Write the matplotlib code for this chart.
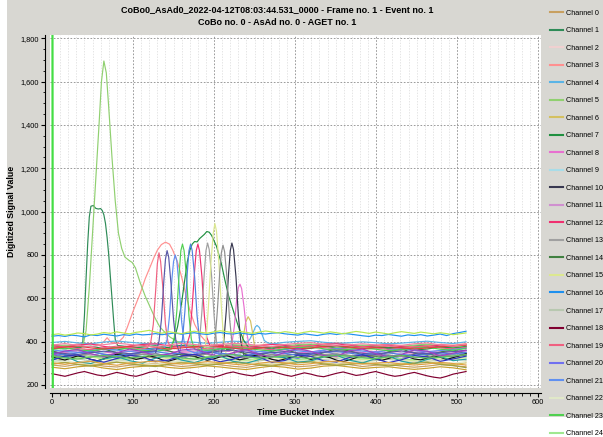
import numpy as np
import matplotlib
matplotlib.use("Agg")
import matplotlib.pyplot as plt
from matplotlib.lines import Line2D
from matplotlib.patches import Rectangle
from matplotlib.ticker import MultipleLocator, FuncFormatter

plt.rcParams['font.family'] = ['Liberation Sans', 'DejaVu Sans']

title1 = "CoBo0_AsAd0_2022-04-12T08:03:44.531_0000 - Frame no. 1 - Event no. 1"
title2 = "CoBo no. 0 - AsAd no. 0 - AGET no. 1"

base_00 = [292, 286, 295, 298, 287, 283, 291, 296, 301, 292, 285, 290, 299, 293, 286, 281, 290, 297, 292, 284, 288, 296, 301, 294, 285, 291, 294, 287, 282, 287, 294, 289, 284]
base_01 = [374, 381, 371, 368, 377, 382, 376, 370, 366, 375, 383, 377, 369, 376, 382, 379, 372, 367, 377, 382, 386, 378, 371, 373, 381, 376, 368, 373, 380, 384, 375, 370, 378]
base_02 = [362, 350, 371, 358, 344, 366, 375, 352, 361, 378, 356, 345, 368, 372, 350, 363, 376, 348, 357, 370, 381, 355, 349, 366, 374, 351, 343, 362, 371, 356, 348, 367, 373]
base_03 = [386, 380, 389, 392, 383, 378, 386, 393, 396, 387, 381, 384, 391, 388, 380, 377, 384, 391, 386, 378, 383, 390, 394, 388, 379, 384, 389, 382, 376, 381, 388, 384, 391]
base_04 = [396, 401, 394, 390, 398, 403, 397, 392, 388, 395, 400, 397, 392, 397, 402, 399, 394, 389, 397, 401, 404, 397, 392, 395, 399, 395, 390, 393, 398, 402, 396, 391, 399]
base_05 = [378, 384, 376, 373, 380, 386, 381, 374, 371, 378, 385, 382, 374, 380, 386, 383, 376, 372, 381, 386, 389, 382, 374, 378, 384, 379, 372, 377, 384, 388, 380, 374, 382]
base_06 = [298, 305, 296, 291, 300, 306, 302, 293, 290, 298, 305, 301, 294, 300, 306, 303, 296, 292, 301, 306, 310, 302, 293, 298, 304, 299, 292, 297, 304, 308, 299, 294, 302]
base_07 = [371, 366, 374, 379, 368, 363, 370, 376, 381, 372, 365, 370, 378, 373, 366, 361, 371, 376, 372, 364, 369, 377, 380, 373, 366, 371, 374, 368, 361, 366, 375, 370, 376]
base_08 = [356, 349, 358, 362, 351, 346, 355, 361, 364, 355, 350, 355, 362, 357, 350, 345, 354, 360, 357, 348, 352, 361, 364, 357, 350, 355, 358, 351, 346, 351, 358, 353, 360]
base_09 = [346, 361, 337, 330, 352, 362, 340, 333, 356, 348, 329, 351, 364, 342, 334, 358, 346, 327, 349, 365, 353, 336, 331, 355, 361, 340, 328, 347, 363, 350, 332, 344, 358]
base_10 = [334, 341, 331, 328, 337, 342, 337, 330, 325, 334, 343, 338, 329, 336, 342, 341, 331, 328, 337, 342, 346, 337, 330, 335, 340, 335, 328, 333, 340, 344, 336, 329, 338]
base_11 = [335, 352, 358, 336, 325, 344, 360, 348, 330, 339, 355, 362, 341, 327, 346, 359, 337, 324, 343, 361, 354, 332, 328, 350, 363, 344, 326, 337, 358, 352, 331, 342, 356]
base_12 = [382, 375, 384, 389, 378, 371, 380, 387, 390, 381, 376, 381, 388, 383, 376, 371, 380, 387, 382, 373, 378, 387, 390, 383, 375, 381, 384, 377, 372, 377, 384, 379, 386]
base_13 = [328, 335, 340, 331, 326, 331, 338, 343, 334, 325, 331, 336, 342, 337, 330, 323, 331, 338, 333, 326, 331, 338, 342, 335, 328, 333, 338, 331, 326, 331, 336, 341, 344]
base_14 = [357, 340, 333, 355, 366, 349, 336, 352, 369, 358, 338, 331, 350, 367, 361, 343, 334, 356, 365, 345, 332, 349, 368, 357, 339, 330, 353, 366, 347, 337, 352, 362, 344]
base_15 = [322, 315, 324, 329, 318, 311, 321, 326, 330, 321, 316, 321, 328, 323, 316, 311, 320, 327, 322, 313, 318, 327, 330, 323, 316, 321, 324, 317, 312, 317, 324, 319, 326]
base_17 = [308, 315, 320, 311, 306, 311, 318, 322, 313, 306, 311, 316, 323, 317, 310, 303, 311, 318, 313, 306, 311, 318, 322, 315, 308, 313, 318, 311, 306, 311, 316, 321, 314]
base_19 = [370, 377, 368, 363, 372, 379, 373, 366, 361, 371, 378, 373, 366, 373, 378, 375, 368, 363, 373, 378, 382, 373, 366, 371, 376, 371, 364, 369, 376, 380, 371, 366, 374]
base_20 = [345, 326, 338, 355, 341, 323, 336, 352, 346, 328, 320, 342, 357, 340, 325, 337, 354, 349, 330, 322, 344, 358, 339, 326, 341, 353, 335, 321, 338, 356, 343, 329, 350]
base_21 = [362, 355, 350, 359, 366, 361, 354, 361, 368, 363, 356, 349, 358, 367, 370, 361, 354, 359, 364, 357, 352, 361, 368, 363, 356, 351, 360, 367, 359, 354, 359, 364, 370]
base_22 = [304, 311, 302, 297, 306, 313, 307, 300, 295, 305, 312, 307, 300, 307, 312, 309, 302, 297, 307, 312, 316, 307, 300, 305, 310, 305, 298, 303, 310, 314, 305, 300, 308]
base_23 = [364, 371, 362, 357, 366, 373, 367, 360, 355, 365, 372, 367, 360, 367, 372, 369, 362, 357, 367, 372, 376, 367, 360, 365, 370, 365, 358, 363, 370, 374, 365, 360, 368]
base_24 = [326, 319, 328, 333, 322, 317, 326, 331, 336, 327, 320, 325, 332, 327, 320, 315, 324, 331, 326, 317, 322, 331, 334, 327, 320, 325, 328, 321, 316, 321, 328, 323, 330]
base_26 = [346, 339, 348, 353, 342, 335, 344, 351, 354, 345, 340, 345, 352, 347, 340, 335, 344, 351, 346, 337, 342, 351, 354, 347, 339, 345, 348, 341, 336, 341, 348, 343, 350]
base_27 = [352, 345, 340, 349, 356, 351, 344, 351, 358, 353, 346, 339, 348, 357, 360, 351, 344, 349, 354, 347, 342, 351, 358, 353, 346, 341, 350, 357, 349, 344, 349, 354, 360]
base_28 = [336, 329, 338, 343, 332, 325, 334, 341, 344, 335, 330, 335, 342, 337, 330, 325, 334, 341, 336, 327, 332, 341, 344, 337, 329, 335, 338, 331, 326, 331, 338, 333, 340]
base_30 = [282, 275, 284, 289, 278, 271, 281, 286, 290, 281, 276, 281, 288, 283, 276, 271, 280, 287, 282, 273, 278, 287, 290, 283, 276, 281, 284, 277, 272, 277, 284, 279, 270]
base_31 = [318, 333, 307, 299, 320, 331, 312, 301, 324, 336, 315, 303, 322, 334, 309, 300, 317, 332, 326, 305, 311, 329, 337, 314, 302, 321, 333, 310, 298, 318, 330, 312, 319]
base_32 = [368, 375, 380, 371, 366, 371, 378, 383, 373, 366, 371, 376, 383, 377, 370, 363, 371, 378, 373, 366, 371, 378, 382, 375, 368, 373, 378, 371, 366, 371, 376, 381, 384]
base_33 = [340, 357, 363, 344, 331, 348, 366, 353, 335, 342, 361, 367, 346, 332, 349, 364, 340, 329, 351, 368, 355, 336, 333, 358, 366, 345, 330, 341, 362, 356, 334, 347, 360]
base_34 = [296, 303, 294, 287, 296, 305, 297, 290, 285, 295, 302, 297, 290, 297, 304, 299, 292, 287, 297, 302, 306, 297, 290, 295, 300, 295, 288, 293, 300, 304, 295, 290, 280]
base_36 = [314, 333, 339, 318, 305, 322, 337, 329, 308, 315, 334, 341, 324, 307, 319, 336, 328, 304, 313, 338, 332, 311, 306, 327, 340, 321, 303, 316, 335, 330, 309, 320, 333]
base_37 = [302, 295, 304, 309, 298, 291, 301, 306, 310, 301, 296, 301, 308, 303, 296, 291, 300, 307, 302, 293, 298, 307, 310, 303, 296, 301, 304, 297, 292, 297, 304, 299, 292]
base_38 = [384, 391, 382, 377, 386, 393, 387, 380, 375, 385, 392, 387, 380, 387, 392, 389, 382, 377, 387, 392, 396, 387, 380, 385, 390, 385, 378, 383, 390, 394, 385, 380, 388]
base_39 = [332, 325, 320, 329, 336, 331, 324, 331, 338, 333, 326, 319, 328, 337, 340, 331, 324, 329, 334, 327, 322, 331, 338, 333, 326, 321, 330, 337, 329, 324, 329, 334, 340]

# prominent lines, sampled every 8 buckets
base_16 = [425, 428, 424, 430, 427, 422, 431, 428, 434, 430, 426, 432, 429, 435, 431, 433, 437, 432, 436, 440, 434, 438, 441, 436, 433, 439, 442, 437, 435, 440, 436, 432, 438, 435, 439, 441, 436, 433, 430, 436, 432, 428, 434, 437, 433, 438, 435, 431, 427, 424, 430, 428, 433, 429, 425, 431, 428, 432, 426, 430, 435, 428, 437, 442, 448]
base_18 = [252, 246, 240, 248, 256, 262, 254, 246, 242, 250, 258, 252, 244, 240, 248, 258, 264, 256, 248, 244, 252, 260, 254, 246, 240, 236, 244, 254, 260, 252, 246, 242, 250, 258, 262, 254, 246, 240, 248, 256, 250, 242, 238, 246, 254, 260, 252, 244, 248, 256, 262, 254, 246, 240, 244, 252, 258, 250, 242, 236, 232, 240, 250, 256, 262]
base_25 = [330, 322, 315, 325, 335, 328, 318, 312, 320, 332, 342, 336, 326, 318, 324, 334, 328, 316, 310, 318, 330, 338, 332, 322, 314, 320, 330, 336, 326, 316, 322, 334, 340, 330, 318, 312, 320, 328, 336, 328, 318, 324, 332, 326, 314, 308, 316, 326, 334, 330, 320, 314, 322, 332, 338, 330, 320, 316, 324, 334, 328, 318, 326, 336, 344]
base_29 = [432, 436, 430, 434, 440, 437, 431, 435, 442, 438, 445, 440, 436, 443, 447, 452, 444, 439, 446, 441, 437, 444, 448, 443, 439, 445, 450, 446, 441, 447, 443, 438, 444, 449, 445, 440, 446, 442, 437, 443, 448, 444, 439, 445, 441, 436, 442, 447, 443, 438, 444, 440, 435, 441, 446, 442, 438, 444, 440, 436, 441, 437, 432, 436, 440]

# channel 35: the spike at bucket 0
t_35 = [0, 1]
v_35 = [4095, 0]

# pulses (time bucket, value)
pt_01 = [36, 38, 40, 42, 44, 46, 48, 51, 54, 57, 60, 62, 64, 66, 68, 70, 72, 74, 76, 78, 81]
pv_01 = [375, 400, 520, 690, 850, 975, 1025, 1028, 1015, 1012, 1014, 1005, 985, 945, 880, 800, 700, 600, 500, 410, 382]
pt_05 = [38, 42, 46, 50, 54, 58, 61, 64, 67, 70, 74, 78, 82, 86, 90, 95, 99, 103, 109, 115, 121, 127, 133, 140, 146, 155, 165]
pv_05 = [380, 450, 650, 900, 1150, 1400, 1600, 1695, 1640, 1480, 1250, 1050, 900, 830, 790, 775, 765, 740, 670, 610, 560, 510, 468, 440, 420, 400, 385]
pt_03 = [60, 64, 68, 72, 80, 88, 93, 100, 109, 115, 121, 126, 130, 135, 140, 145, 149, 155, 160, 165, 170, 176, 183, 190, 198]
pv_03 = [385, 400, 418, 400, 390, 420, 467, 540, 624, 690, 744, 790, 822, 848, 859, 850, 822, 765, 698, 620, 546, 480, 430, 400, 385]
pt_19 = [118, 122, 125, 128, 130, 132, 134, 137, 140, 143, 147]
pv_19 = [372, 400, 480, 640, 760, 810, 770, 640, 480, 400, 372]
pt_27 = [128, 132, 135, 138, 140, 142, 144, 147, 150, 153, 157]
pv_27 = [350, 400, 500, 680, 780, 820, 790, 660, 500, 400, 350]
pt_21 = [138, 142, 145, 148, 150, 152, 154, 157, 160, 163, 167]
pv_21 = [360, 410, 520, 690, 770, 800, 775, 650, 490, 400, 360]
pt_23 = [147, 151, 154, 157, 159, 161, 163, 166, 169, 172, 176]
pv_23 = [365, 420, 540, 720, 820, 850, 820, 700, 520, 410, 365]
pt_26 = [157, 161, 164, 167, 169, 171, 173, 176, 179, 182, 186]
pv_26 = [345, 410, 540, 720, 820, 850, 820, 700, 520, 410, 345]
pt_12 = [166, 170, 173, 176, 178, 180, 182, 185, 188, 191, 195]
pv_12 = [380, 430, 560, 730, 820, 850, 820, 700, 520, 420, 380]
pt_13 = [178, 182, 185, 188, 190, 192, 194, 197, 200, 203, 207]
pv_13 = [330, 400, 540, 720, 820, 855, 825, 700, 520, 400, 330]
pt_07 = [145, 150, 155, 160, 164, 167, 170, 173, 176, 179, 182, 185, 188, 191, 194, 197, 200, 203, 206, 209, 213, 218, 224, 230, 236, 242]
pv_07 = [370, 400, 470, 580, 690, 770, 820, 850, 862, 860, 875, 885, 895, 908, 905, 890, 865, 840, 800, 760, 690, 610, 540, 470, 410, 375]
pt_15 = [186, 190, 193, 196, 199, 201, 203, 206, 209, 212, 216]
pv_15 = [320, 400, 560, 760, 900, 945, 910, 760, 560, 400, 320]
pt_28 = [197, 201, 204, 207, 209, 211, 213, 216, 219, 222, 226]
pv_28 = [335, 400, 540, 720, 810, 845, 815, 690, 510, 400, 335]
pt_10 = [208, 212, 215, 218, 220, 222, 224, 227, 230, 233, 237]
pv_10 = [335, 400, 540, 720, 820, 855, 825, 700, 520, 400, 335]
pt_08 = [219, 222, 225, 228, 230, 232, 234, 237, 240, 243, 247]
pv_08 = [355, 390, 470, 600, 650, 665, 645, 560, 450, 385, 355]
pt_06 = [228, 232, 236, 239, 242, 245, 248, 251, 255]
pv_06 = [300, 340, 420, 490, 515, 495, 430, 350, 300]
pt_04 = [240, 244, 248, 251, 253, 256, 259, 262, 266]
pv_04 = [395, 410, 440, 468, 475, 465, 435, 405, 395]

colors = ["#c8a060", "#2e8b57", "#f0d0d0", "#ff9090", "#5ab4e6", "#90d070", "#d4c060", "#209040",
          "#e870d0", "#a8dce8", "#383850", "#d090d0", "#f03070", "#a0a0a0", "#408040", "#dce890",
          "#1e90ee", "#b8c8b0", "#800030", "#f06080", "#7070f0", "#6090f0", "#e0e8c8", "#50d050",
          "#a0e890", "#101010", "#5080e0", "#5858a8", "#909090", "#b8e850", "#c8a030", "#20a0a0",
          "#e04040", "#a040c0", "#a0a040", "#44dd44", "#3030c0", "#e0a040", "#f080a0", "#60c060"]

channels = [
    (0, base_00, None, None), (1, base_01, pt_01, pv_01), (2, base_02, None, None),
    (3, base_03, pt_03, pv_03), (4, base_04, pt_04, pv_04), (5, base_05, pt_05, pv_05),
    (6, base_06, pt_06, pv_06), (7, base_07, pt_07, pv_07), (8, base_08, pt_08, pv_08),
    (9, base_09, None, None), (10, base_10, pt_10, pv_10), (11, base_11, None, None),
    (12, base_12, pt_12, pv_12), (13, base_13, pt_13, pv_13), (14, base_14, None, None),
    (15, base_15, pt_15, pv_15), (16, base_16, None, None), (17, base_17, None, None),
    (18, base_18, None, None), (19, base_19, pt_19, pv_19), (20, base_20, None, None),
    (21, base_21, pt_21, pv_21), (22, base_22, None, None), (23, base_23, pt_23, pv_23),
    (24, base_24, None, None), (25, base_25, None, None), (26, base_26, pt_26, pv_26),
    (27, base_27, pt_27, pv_27), (28, base_28, pt_28, pv_28), (29, base_29, None, None),
    (30, base_30, None, None), (31, base_31, None, None), (32, base_32, None, None),
    (33, base_33, None, None), (34, base_34, None, None), (36, base_36, None, None),
    (37, base_37, None, None), (38, base_38, None, None), (39, base_39, None, None),
]

W, H = 603, 437
fig = plt.figure(figsize=(W / 100, H / 100), dpi=100)
fig.patch.set_facecolor("white")
fig.add_artist(Rectangle((7 / W, (H - 417) / H), (W - 7) / W, 417 / H,
                         transform=fig.transFigure, facecolor="#d8d7d2", edgecolor="none", zorder=-10))

ax = fig.add_axes([50 / W, 49 / H, 491 / W, 353 / H])
ax.set_facecolor("white")

for ch, base, pt, pv in channels:
    tb = np.linspace(0, 511, len(base))
    vb = np.array(base, dtype=float)
    if pt is not None:
        keep = (tb < pt[0]) | (tb > pt[-1])
        t = np.concatenate([tb[keep], pt])
        v = np.concatenate([vb[keep], pv])
        order = np.argsort(t)
        t, v = t[order], v[order]
    else:
        t, v = tb, vb
    ax.plot(t, v, color=colors[ch], lw=0.85)

ax.plot(t_35, v_35, color=colors[35], lw=1.6)

ax.set_xlim(-2.5, 603.5)
ax.set_ylim(186, 1815)
ax.xaxis.set_major_locator(MultipleLocator(100))
ax.xaxis.set_minor_locator(MultipleLocator(10))
ax.yaxis.set_major_locator(MultipleLocator(200))
ax.yaxis.set_minor_locator(MultipleLocator(50))
ax.yaxis.set_major_formatter(FuncFormatter(lambda v, p: f"{int(v):,}"))

ax.set_axisbelow(True)
ax.xaxis.grid(True, which="minor", color="#dadada", ls=(0, (2, 2)), lw=0.5)
ax.xaxis.grid(True, which="major", color="#8a8a8a", ls=(0, (2, 2)), lw=0.6)
ax.yaxis.grid(True, which="major", color="#8a8a8a", ls=(0, (2, 2)), lw=0.6)

for s in ["top", "right"]:
    ax.spines[s].set_visible(False)
for s in ["left", "bottom"]:
    ax.spines[s].set_position(("outward", 3.6))
    ax.spines[s].set_linewidth(0.8)
ax.tick_params(which="major", direction="out", length=3, width=0.8, labelsize=5.3, pad=1.5)
ax.tick_params(which="minor", direction="out", length=1.8, width=0.6)

ax.set_xlabel("Time Bucket Index", fontsize=6.3, fontweight="bold", labelpad=1.5)
ax.set_ylabel("Digitized Signal Value", fontsize=6.3, fontweight="bold", labelpad=3)

fig.text(277 / W, 1 - 10 / H, title1, ha="center", va="center", fontsize=6.5, fontweight="bold")
fig.text(277 / W, 1 - 22.5 / H, title2, ha="center", va="center", fontsize=6.5, fontweight="bold")

handles = [Line2D([], [], color=colors[i], lw=1.5) for i in range(25)]
labels = [f"Channel {i}" for i in range(25)]
fig.legend(handles, labels, loc="upper left", bbox_to_anchor=(550 / W, 1 - 9.5 / H),
           frameon=False, fontsize=5.2, handlelength=1.8, handletextpad=0.45,
           labelspacing=1.45, borderpad=0, borderaxespad=0)

fig.savefig("out.png", dpi=100)
